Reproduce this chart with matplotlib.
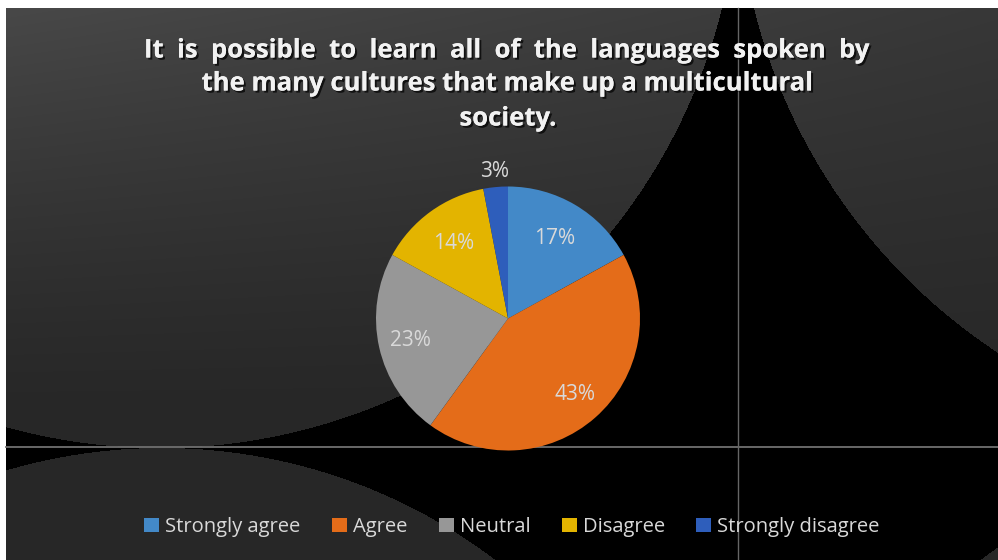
import numpy as np
import matplotlib
matplotlib.use("Agg")
import matplotlib.pyplot as plt
import matplotlib.patheffects as pe

# survey answers, share of respondents in percent
categories = ["Strongly agree", "Agree", "Neutral", "Disagree", "Strongly disagree"]
shares = [17, 43, 23, 14, 3]
colors = ["#4389c8", "#e46c19", "#979797", "#e3b400", "#2e5ebb"]
label_dist = [0.70, 0.77, 0.755, 0.70, 1.12]  # how far out each % label sits

title_lines = [
    "It  is  possible  to  learn  all  of  the  languages  spoken  by",
    "the many cultures that make up a multicultural",
    "society.",
]

W, H = 998, 560
fig = plt.figure(figsize=(W / 100, H / 100), dpi=100)

# background: dark gradient inside four big discs, black where none of them reach
yy, xx = np.mgrid[0:H, 0:W] + 0.5
shade = 39 + np.clip(1 - yy / 420, 0, 1) ** 1.3 * (34 - 17 * xx / W)
discs = [(160, -131, 579), (1316, -131, 579), (162, 1000, 552), (1314, 1000, 552)]
inside = np.zeros((H, W), dtype=bool)
for cx, cy, r in discs:
    inside |= (xx - cx) ** 2 + (yy - cy) ** 2 <= r ** 2
img = np.where(inside, shade, 0.0)
img[:8, :] = 255
img[:, :6] = 255
img = np.repeat((img / 255)[:, :, None], 3, axis=2)

bg = fig.add_axes([0, 0, 1, 1])
bg.imshow(img, extent=(0, W, H, 0), interpolation="nearest")
bg.plot([6, W], [447, 447], color="#707070", lw=1.3)
bg.plot([738, 738], [8, H], color="#666666", lw=1.0)
bg.set_xlim(0, W)
bg.set_ylim(H, 0)
bg.axis("off")

# title
shadow = [pe.withSimplePatchShadow(offset=(1.5, -1.5), shadow_rgbFace="black", alpha=0.7), pe.Normal()]
for line, y in zip(title_lines, [50, 83, 118]):
    fig.text(508 / W, 1 - y / H, line, ha="center", va="center", color="#f2f2f2",
             fontsize=18.5, fontweight="bold", family="Open Sans", path_effects=shadow)

# pie
cx, cy, r = 508, 318.5, 132
ax = fig.add_axes([(cx - r) / W, (H - cy - r) / H, 2 * r / W, 2 * r / H])
wedges, texts, autotexts = ax.pie(shares, colors=colors, startangle=90, counterclock=False,
                                  autopct="%1.0f%%", wedgeprops=dict(linewidth=0),
                                  textprops=dict(color="#d9d9d9", fontsize=15, family="Open Sans"))
for w, t, d in zip(wedges, autotexts, label_dist):
    ang = np.deg2rad((w.theta1 + w.theta2) / 2)
    t.set_position((d * np.cos(ang), d * np.sin(ang)))
ax.set_xlim(-1, 1)
ax.set_ylim(-1, 1)
ax.axis("off")

leg = fig.legend(wedges, categories, loc="center", bbox_to_anchor=(512 / W, 1 - 527 / H), ncol=5,
                 frameon=False, prop=dict(family="Open Sans", size=14.5), labelcolor="#d9d9d9",
                 handlelength=0.75, handleheight=0.75, handletextpad=0.3, columnspacing=1.55)

fig.savefig("out.png", dpi=100)
